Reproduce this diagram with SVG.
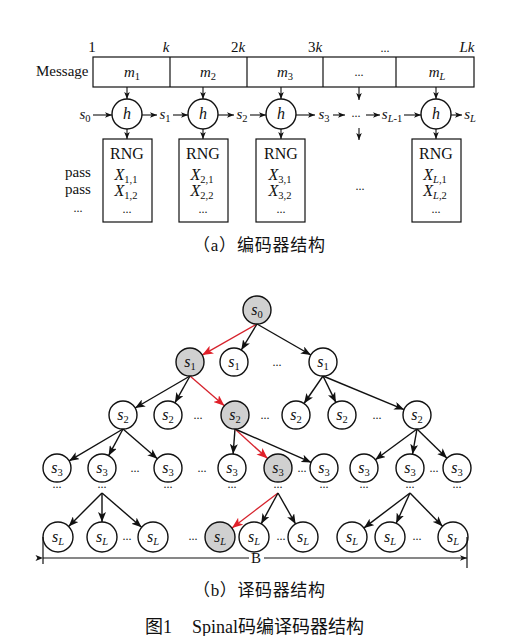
<svg xmlns="http://www.w3.org/2000/svg" width="514" height="636" viewBox="0 0 514 636">
<defs>
<marker id="ah" viewBox="0 0 10 8" refX="10" refY="4" markerWidth="10" markerHeight="8" markerUnits="userSpaceOnUse" orient="auto"><path d="M0,0 L10,4 L0,8 L2.5,4 z" fill="#111"/></marker>
<marker id="ahr" viewBox="0 0 10 8" refX="10" refY="4" markerWidth="11" markerHeight="9" markerUnits="userSpaceOnUse" orient="auto"><path d="M0,0 L10,4 L0,8 L2.5,4 z" fill="#e0202a"/></marker>
<marker id="as" viewBox="0 0 10 8" refX="10" refY="4" markerWidth="7" markerHeight="6" markerUnits="userSpaceOnUse" orient="auto"><path d="M0,0 L10,4 L0,8 L2.5,4 z" fill="#111"/></marker>
<marker id="ad" viewBox="0 0 10 8" refX="0" refY="4" markerWidth="8" markerHeight="6" markerUnits="userSpaceOnUse" orient="auto-start-reverse"><path d="M10,0 L0,4 L10,8 L7.5,4 z" fill="#111"/></marker>
</defs>
<style>
text{font-family:"Liberation Serif","DejaVu Serif",serif;fill:#111}
.i{font-style:italic}
.sub{font-size:10.5px;font-style:normal}
.subi{font-size:10.5px;font-style:italic}
.ln{stroke:#111;stroke-width:1.2;fill:none}
.bx{fill:#fff;stroke:#111;stroke-width:1.2}
.nd{fill:#fff;stroke:#111;stroke-width:1.4}
.g{fill:#d0d0d0}
.e{stroke:#111;stroke-width:1.4;fill:none;marker-end:url(#ah)}
.r{stroke:#d6222c;stroke-width:1.3;fill:none;marker-end:url(#ahr)}
.s{stroke:#111;stroke-width:1.1;fill:none;marker-end:url(#as)}
.cn{font-family:"Liberation Serif","Noto Sans CJK SC",serif}
.dots{font-size:12px}
.t{font-size:15px}
.n{font-size:16px;text-anchor:middle}
</style>

<!-- ===== (a) encoder ===== -->
<g id="ruler" class="t">
<text x="92" y="52" text-anchor="middle">1</text>
<text x="166" y="52" text-anchor="middle" class="i">k</text>
<text x="238" y="52" text-anchor="middle">2<tspan class="i">k</tspan></text>
<text x="315" y="52" text-anchor="middle">3<tspan class="i">k</tspan></text>
<text x="385" y="52" text-anchor="middle" class="dots">...</text>
<text x="467" y="52" text-anchor="middle" class="i">Lk</text>
</g>

<g id="message">
<text x="36" y="76" class="t">Message</text>
<rect x="93" y="57" width="381" height="30" class="bx"/>
<line x1="170" y1="57" x2="170" y2="87" class="ln"/>
<line x1="247" y1="57" x2="247" y2="87" class="ln"/>
<line x1="323" y1="57" x2="323" y2="87" class="ln"/>
<line x1="396" y1="57" x2="396" y2="87" class="ln"/>
<text x="132" y="77" class="t i" text-anchor="middle">m<tspan class="sub" dy="3">1</tspan></text>
<text x="208" y="77" class="t i" text-anchor="middle">m<tspan class="sub" dy="3">2</tspan></text>
<text x="285" y="77" class="t i" text-anchor="middle">m<tspan class="sub" dy="3">3</tspan></text>
<text x="359" y="76" class="dots" text-anchor="middle">...</text>
<text x="437" y="77" class="t i" text-anchor="middle">m<tspan class="subi" dy="3">L</tspan></text>
</g>

<g id="h1"><circle cx="127" cy="114" r="15" class="nd"/><text x="127" y="119" class="n i">h</text></g>
<g id="h2"><circle cx="203" cy="114" r="15" class="nd"/><text x="203" y="119" class="n i">h</text></g>
<g id="h3"><circle cx="281" cy="114" r="15" class="nd"/><text x="281" y="119" class="n i">h</text></g>
<g id="hL"><circle cx="436" cy="114" r="15" class="nd"/><text x="436" y="119" class="n i">h</text></g>

<g id="states" class="t i">
<text x="85" y="119" text-anchor="middle">s<tspan class="sub" dy="3">0</tspan></text>
<text x="165" y="119" text-anchor="middle">s<tspan class="sub" dy="3">1</tspan></text>
<text x="242" y="119" text-anchor="middle">s<tspan class="sub" dy="3">2</tspan></text>
<text x="324" y="119" text-anchor="middle">s<tspan class="sub" dy="3">3</tspan></text>
<text x="356" y="117" text-anchor="middle" class="dots" font-style="normal">...</text>
<text x="392" y="119" text-anchor="middle">s<tspan class="subi" dy="3">L</tspan><tspan class="sub">-1</tspan></text>
<text x="470" y="119" text-anchor="middle">s<tspan class="subi" dy="3">L</tspan></text>
</g>

<g id="rng1"><rect x="103" y="139" width="49" height="83" class="bx"/>
<text x="127" y="159" class="n">RNG</text>
<text x="126" y="180" class="n i">X<tspan class="sub" dy="3">1,1</tspan></text>
<text x="126" y="196" class="n i">X<tspan class="sub" dy="3">1,2</tspan></text>
<text x="127" y="213" class="dots" text-anchor="middle">...</text></g>
<g id="rng2"><rect x="179" y="139" width="49" height="83" class="bx"/>
<text x="203" y="159" class="n">RNG</text>
<text x="202" y="180" class="n i">X<tspan class="sub" dy="3">2,1</tspan></text>
<text x="202" y="196" class="n i">X<tspan class="sub" dy="3">2,2</tspan></text>
<text x="203" y="213" class="dots" text-anchor="middle">...</text></g>
<g id="rng3"><rect x="256" y="139" width="49" height="83" class="bx"/>
<text x="281" y="159" class="n">RNG</text>
<text x="280" y="180" class="n i">X<tspan class="sub" dy="3">3,1</tspan></text>
<text x="280" y="196" class="n i">X<tspan class="sub" dy="3">3,2</tspan></text>
<text x="281" y="213" class="dots" text-anchor="middle">...</text></g>
<g id="rngL"><rect x="412" y="139" width="49" height="83" class="bx"/>
<text x="436" y="159" class="n">RNG</text>
<text x="435" y="180" class="n i">X<tspan class="subi" dy="3">L</tspan><tspan class="sub">,1</tspan></text>
<text x="435" y="196" class="n i">X<tspan class="subi" dy="3">L</tspan><tspan class="sub">,2</tspan></text>
<text x="436" y="213" class="dots" text-anchor="middle">...</text></g>

<g id="pass" class="t">
<text x="78" y="177" text-anchor="middle">pass</text>
<text x="78" y="194" text-anchor="middle">pass</text>
<text x="78" y="212" text-anchor="middle" class="dots">...</text>
<text x="360" y="190" text-anchor="middle" class="dots">...</text>
</g>

<g id="enc-connectors">
<line x1="127" y1="87" x2="127" y2="99" class="s"/>
<line x1="203" y1="87" x2="203" y2="99" class="s"/>
<line x1="281" y1="87" x2="281" y2="99" class="s"/>
<line x1="436" y1="87" x2="436" y2="99" class="s"/>
<line x1="359" y1="87" x2="359" y2="100" class="s"/>
<line x1="127" y1="129" x2="127" y2="139" class="s"/>
<line x1="203" y1="129" x2="203" y2="139" class="s"/>
<line x1="281" y1="129" x2="281" y2="139" class="s"/>
<line x1="436" y1="129" x2="436" y2="139" class="s"/>
<line x1="359" y1="128" x2="359" y2="140" class="s"/>
<line x1="93" y1="115" x2="112" y2="115" class="s"/>
<line x1="142" y1="115" x2="157" y2="115" class="s"/>
<line x1="173" y1="115" x2="188" y2="115" class="s"/>
<line x1="218" y1="115" x2="234" y2="115" class="s"/>
<line x1="250" y1="115" x2="266" y2="115" class="s"/>
<line x1="296" y1="115" x2="315" y2="115" class="s"/>
<line x1="333" y1="115" x2="345" y2="115" class="s"/>
<line x1="366" y1="115" x2="380" y2="115" class="s"/>
<line x1="404" y1="115" x2="421" y2="115" class="s"/>
<line x1="451" y1="115" x2="462" y2="115" class="s"/>
</g>

<text x="193" y="251" class="cn" font-size="17" textLength="132" lengthAdjust="spacing">（a）编码器结构</text>

<!-- ===== (b) decoder tree ===== -->
<g id="tree-connectors">
<line x1="257" y1="324" x2="202.2" y2="355.1" class="r"/>
<line x1="257" y1="324" x2="241.3" y2="350" class="e"/>
<line x1="257" y1="324" x2="310.9" y2="355" class="e"/>
<line x1="190" y1="376" x2="135.1" y2="408" class="e"/>
<line x1="190" y1="376" x2="174.9" y2="402.8" class="e"/>
<line x1="190" y1="376" x2="224.4" y2="405.8" class="r"/>
<line x1="323" y1="376" x2="304" y2="403.5" class="e"/>
<line x1="323" y1="376" x2="335.9" y2="402.4" class="e"/>
<line x1="323" y1="376" x2="404.1" y2="409.6" class="e"/>
<line x1="123" y1="429" x2="69.1" y2="460.9" class="e"/>
<line x1="123" y1="429" x2="108.6" y2="455.7" class="e"/>
<line x1="123" y1="429" x2="157.4" y2="458.8" class="e"/>
<line x1="235" y1="429" x2="233.1" y2="454" class="e"/>
<line x1="235" y1="429" x2="267.6" y2="458.6" class="r"/>
<line x1="235" y1="429" x2="311.2" y2="462.4" class="e"/>
<line x1="417" y1="429" x2="375.3" y2="459.7" class="e"/>
<line x1="417" y1="429" x2="412.5" y2="454.2" class="e"/>
<line x1="417" y1="429" x2="447" y2="458.2" class="e"/>
<line x1="102" y1="493" x2="68.6" y2="526.4" class="e"/>
<line x1="102" y1="493" x2="102" y2="522" class="e"/>
<line x1="102" y1="493" x2="141.6" y2="527.2" class="e"/>
<line x1="278" y1="493" x2="232" y2="527.9" class="r"/>
<line x1="278" y1="493" x2="261.2" y2="523.8" class="e"/>
<line x1="278" y1="493" x2="295.6" y2="524" class="e"/>
<line x1="410" y1="493" x2="364" y2="527.9" class="e"/>
<line x1="410" y1="493" x2="396.2" y2="523.3" class="e"/>
<line x1="410" y1="493" x2="442.5" y2="526.3" class="e"/>
</g>

<g id="n0"><circle cx="257" cy="310" r="14" class="nd g"/><text x="257" y="315" class="n i">s<tspan class="sub" dy="3">0</tspan></text></g>

<g id="n1a"><circle cx="190" cy="362" r="14" class="nd g"/><text x="190" y="367" class="n i">s<tspan class="sub" dy="3">1</tspan></text></g>
<g id="n1b"><circle cx="234" cy="362" r="14" class="nd"/><text x="234" y="367" class="n i">s<tspan class="sub" dy="3">1</tspan></text></g>
<g id="n1c"><circle cx="323" cy="362" r="14" class="nd"/><text x="323" y="367" class="n i">s<tspan class="sub" dy="3">1</tspan></text></g>

<g id="n2a"><circle cx="123" cy="415" r="14" class="nd"/><text x="123" y="420" class="n i">s<tspan class="sub" dy="3">2</tspan></text></g>
<g id="n2b"><circle cx="168" cy="415" r="14" class="nd"/><text x="168" y="420" class="n i">s<tspan class="sub" dy="3">2</tspan></text></g>
<g id="n2c"><circle cx="235" cy="415" r="14" class="nd g"/><text x="235" y="420" class="n i">s<tspan class="sub" dy="3">2</tspan></text></g>
<g id="n2d"><circle cx="296" cy="415" r="14" class="nd"/><text x="296" y="420" class="n i">s<tspan class="sub" dy="3">2</tspan></text></g>
<g id="n2e"><circle cx="342" cy="415" r="14" class="nd"/><text x="342" y="420" class="n i">s<tspan class="sub" dy="3">2</tspan></text></g>
<g id="n2f"><circle cx="417" cy="415" r="14" class="nd"/><text x="417" y="420" class="n i">s<tspan class="sub" dy="3">2</tspan></text></g>

<g id="n3a"><circle cx="57" cy="468" r="14" class="nd"/><text x="57" y="473" class="n i">s<tspan class="sub" dy="3">3</tspan></text></g>
<g id="n3b"><circle cx="102" cy="468" r="14" class="nd"/><text x="102" y="473" class="n i">s<tspan class="sub" dy="3">3</tspan></text></g>
<g id="n3c"><circle cx="168" cy="468" r="14" class="nd"/><text x="168" y="473" class="n i">s<tspan class="sub" dy="3">3</tspan></text></g>
<g id="n3d"><circle cx="232" cy="468" r="14" class="nd"/><text x="232" y="473" class="n i">s<tspan class="sub" dy="3">3</tspan></text></g>
<g id="n3e"><circle cx="278" cy="468" r="14" class="nd g"/><text x="278" y="473" class="n i">s<tspan class="sub" dy="3">3</tspan></text></g>
<g id="n3f"><circle cx="324" cy="468" r="14" class="nd"/><text x="324" y="473" class="n i">s<tspan class="sub" dy="3">3</tspan></text></g>
<g id="n3g"><circle cx="364" cy="468" r="14" class="nd"/><text x="364" y="473" class="n i">s<tspan class="sub" dy="3">3</tspan></text></g>
<g id="n3h"><circle cx="410" cy="468" r="14" class="nd"/><text x="410" y="473" class="n i">s<tspan class="sub" dy="3">3</tspan></text></g>
<g id="n3i"><circle cx="457" cy="468" r="14" class="nd"/><text x="457" y="473" class="n i">s<tspan class="sub" dy="3">3</tspan></text></g>

<g id="nLa"><circle cx="58" cy="537" r="15" class="nd"/><text x="58" y="542" class="n i">s<tspan class="subi" dy="3">L</tspan></text></g>
<g id="nLb"><circle cx="102" cy="537" r="15" class="nd"/><text x="102" y="542" class="n i">s<tspan class="subi" dy="3">L</tspan></text></g>
<g id="nLc"><circle cx="153" cy="537" r="15" class="nd"/><text x="153" y="542" class="n i">s<tspan class="subi" dy="3">L</tspan></text></g>
<g id="nLd"><circle cx="220" cy="537" r="15" class="nd g"/><text x="220" y="542" class="n i">s<tspan class="subi" dy="3">L</tspan></text></g>
<g id="nLe"><circle cx="254" cy="537" r="15" class="nd"/><text x="254" y="542" class="n i">s<tspan class="subi" dy="3">L</tspan></text></g>
<g id="nLf"><circle cx="303" cy="537" r="15" class="nd"/><text x="303" y="542" class="n i">s<tspan class="subi" dy="3">L</tspan></text></g>
<g id="nLg"><circle cx="352" cy="537" r="15" class="nd"/><text x="352" y="542" class="n i">s<tspan class="subi" dy="3">L</tspan></text></g>
<g id="nLh"><circle cx="390" cy="537" r="15" class="nd"/><text x="390" y="542" class="n i">s<tspan class="subi" dy="3">L</tspan></text></g>
<g id="nLi"><circle cx="453" cy="537" r="15" class="nd"/><text x="453" y="542" class="n i">s<tspan class="subi" dy="3">L</tspan></text></g>

<g id="tree-dots" class="dots" text-anchor="middle" fill="#333">
<text x="277" y="366">...</text>
<text x="198" y="419">...</text>
<text x="265" y="419">...</text>
<text x="377" y="419">...</text>
<text x="135" y="472">...</text>
<text x="202" y="472">...</text>
<text x="302" y="472">...</text>
<text x="434" y="472">...</text>
<text x="57" y="488">...</text>
<text x="102" y="488">...</text>
<text x="168" y="488">...</text>
<text x="232" y="488">...</text>
<text x="278" y="488">...</text>
<text x="324" y="488">...</text>
<text x="364" y="488">...</text>
<text x="410" y="488">...</text>
<text x="457" y="488">...</text>
<text x="127" y="540">...</text>
<text x="193" y="540">...</text>
<text x="281" y="540">...</text>
<text x="417" y="540">...</text>
</g>

<g id="B-dimension">
<line x1="43" y1="537" x2="43" y2="564" class="ln"/>
<line x1="467" y1="537" x2="467" y2="568" class="ln"/>
<line x1="43" y1="558" x2="249" y2="558" class="ln" marker-start="url(#ad)"/>
<line x1="264" y1="558" x2="467" y2="558" class="ln" marker-end="url(#as)"/>
<text x="256" y="563" text-anchor="middle" font-size="15">B</text>
</g>

<text x="193" y="596" class="cn" font-size="17" textLength="132" lengthAdjust="spacing">（b）译码器结构</text>
<text x="145" y="633" class="cn" font-size="18">图1<tspan dx="20">Spinal码编译码器结构</tspan></text>
</svg>
